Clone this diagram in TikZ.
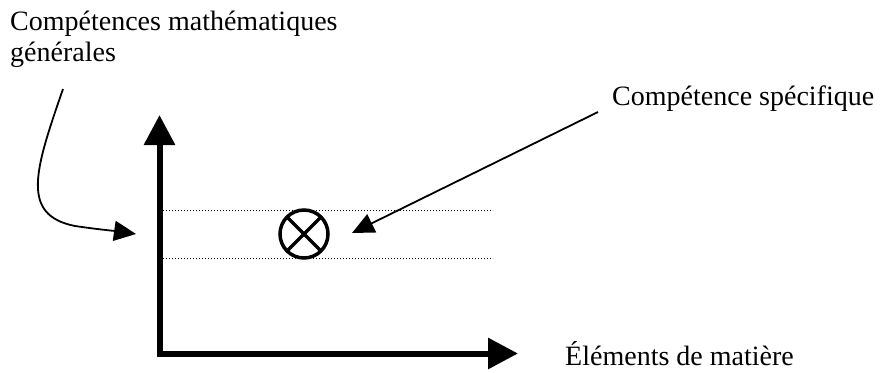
\documentclass[tikz,border=0pt]{standalone}
\usepackage{fontspec}
\setmainfont{Liberation Serif}
\usetikzlibrary{arrows.meta}
\begin{document}
\begin{tikzpicture}[x=1pt,y=-1pt,
  lbl/.style={inner sep=0pt,font=\fontsize{28}{31}\selectfont},
  axis/.style={line width=6pt,line join=miter,
    {Triangle[length=30pt,width=30pt]}-{Triangle[length=30pt,width=30pt]}},
  band/.style={line width=1pt,dash pattern=on 1pt off 2pt},
  ptr/.style={line width=1.8pt,-{Triangle[length=22pt,width=20pt]}},
  target/.style={circle,draw,line width=3.5pt,minimum size=48pt,inner sep=0pt,outer sep=0pt}]
\useasboundingbox (0,0) rectangle (890,372);

% axes
\coordinate (O) at (159.5,353.5);
\coordinate (ytop) at (159.5,115);
\coordinate (xend) at (518,353.5);
\draw[axis] (ytop) -- (O) -- (xend);

% band of the general competence
\coordinate (b1l) at (163,210);
\coordinate (b1r) at (493,210);
\coordinate (b2l) at (163,258);
\coordinate (b2r) at (493,258);
\draw[band] (b1l) -- (b1r);
\draw[band] (b2l) -- (b2r);

% specific competence marker
\node[target] (c) at (304,234) {};
\draw[line width=3.5pt] (c.45) -- (c.225);
\draw[line width=3.5pt] (c.135) -- (c.315);

% labels
\node[lbl,align=left,anchor=north west] (gen) at (10,11)
  {Compétences mathématiques\\générales};
\node[lbl,anchor=base west] (spec) at (612,105) {Compétence spécifique};
\node[lbl,anchor=base west] (elem) at (565,365) {Éléments de matière};

% pointers
\coordinate (g0) at (63,89);
\coordinate (g1) at (136,234);
\draw[ptr] (g0) .. controls (35,170) and (20,215) .. (75,226)
  .. controls (95,229) and (115,231) .. (g1);
\coordinate (s0) at (598,112);
\coordinate (s1) at (352,233);
\draw[ptr] (s0) -- (s1);
\end{tikzpicture}
\end{document}
